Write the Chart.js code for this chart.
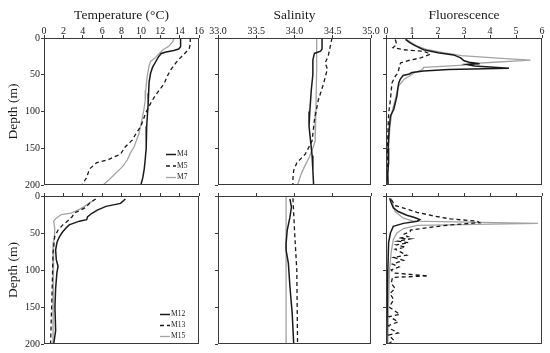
<!DOCTYPE html>
<html><head><meta charset="utf-8">
<script src="https://cdn.jsdelivr.net/npm/chart.js@4/dist/chart.umd.min.js"></script>
<style>
html,body{margin:0;padding:0;background:#fff;}
#wrap{position:relative;width:550px;height:353px;overflow:hidden;}
#wrap canvas{position:absolute;left:0;top:0;}
</style></head><body><div id="wrap"></div>
<script>
// ---------- DATA (value, depth in m) ----------
// Top row stations
const tempM4  = [14.1,14.1,14.1,13.9,13.4,12.6,12.1,11.8,11.5,11.2,11.0,10.85,10.8,10.75,10.7,10.6,10.55,10.45,10.35,10.2,10.0];
const depTempM4 = [0,5,12,15,17,19,21,26,33,40,48,60,75,90,100,120,150,165,178,190,200];
const tempM5  = [15.1,15.1,15.0,14.6,14.0,13.6,13.1,12.8,12.4,11.9,11.4,11.0,10.5,10.0,9.5,9.1,8.4,7.9,6.7,5.4,4.8,4.6,4.4,3.9];
const depTempM5 = [0,8,14,20,28,34,43,50,62,71,80,89,102,120,130,139,148,158,165,170,177,182,190,200];
const tempM7  = [13.4,13.3,12.9,12.3,11.9,11.4,11.0,10.85,10.65,10.5,10.45,10.3,10.1,9.8,9.3,8.9,8.6,8.1,7.4,6.7,6.1];
const depTempM7 = [0,5,11,16,21,28,32,38,52,71,85,98,112,130,148,157,166,175,184,193,200];

const salM4 = [34.36,34.36,34.34,34.26,34.24,34.24,34.22,34.20,34.19,34.21,34.23,34.24,34.25];
const depSalM4 = [0,15,18,21,30,50,70,100,120,140,160,180,200];
const salM5 = [34.49,34.47,34.44,34.40,34.43,34.38,34.31,34.26,34.23,34.18,34.14,34.03,33.99,33.98,33.98];
const depSalM5 = [0,10,25,34,42,62,85,112,140,150,158,170,180,190,200];
const salM7 = [34.29,34.29,34.28,34.27,34.24,34.19,34.13,34.08,34.04];
const depSalM7 = [0,40,100,140,150,163,175,187,200];

const fluM4 = [0.75,0.9,1.1,1.45,2.0,2.6,2.87,3.0,3.2,3.6,3.1,3.4,4.73,2.4,1.45,1.0,0.9,0.66,0.55,0.49,0.45,0.42,0.3,0.17,0.12,0.08,0.1,0.06,0.08];
const depFluM4 = [2,6,10,16,20,23,27,31,33,35,36,38,41,43,45,47,49,51,56,61,70,79,97,106,125,150,170,185,200];
const fluM5 = [0.36,0.41,0.27,0.68,1.45,1.71,1.33,0.82,0.56,0.52,0.49,0.45,0.36,0.23,0.17,0.1,0.07,0.05,0.05];
const depFluM5 = [2,9,13,16,18,22,27,31,34,38,43,48,52,61,84,103,130,160,200];
const fluM7 = [0.8,1.0,1.2,1.6,2.2,2.9,4.15,5.56,4.15,3.25,3.0,1.45,1.4,1.1,0.94,0.7,0.49,0.36,0.23,0.15,0.1,0.08];
const depFluM7 = [2,7,11,16,20,24,27,30,33,35,37,40,43,47,51,56,65,83,101,120,150,200];

// Bottom row stations
const tempM12 = [8.4,7.9,6.4,5.5,5.0,4.5,4.4,3.65,2.6,2.3,1.95,1.6,1.35,1.2,1.27,1.45,1.33,1.2,1.13,1.2,1.0];
const depTempM12 = [4,10,14,19,23,28,32,34,39,43,48,55,62,73,86,95,104,125,150,182,200];
const tempM13 = [5.35,4.85,4.4,4.2,3.8,3.15,2.9,2.6,1.95,1.45,1.1,0.93,0.85,0.75,0.68];
const depTempM13 = [4,8,14,16,19,23,28,32,39,46,55,77,122,167,200];
const tempM15 = [5.2,4.7,4.2,3.65,2.8,1.8,1.25,1.0,1.1,1.1,1.0,0.93,0.93];
const depTempM15 = [6,9,14,18,23,25,30,34,43,50,62,97,200];

const salM12 = [33.94,33.96,33.94,33.905,33.89,33.89,33.92,33.94,33.97,33.99];
const depSalM12 = [4,15,29,46,64,73,91,122,159,200];
const salM13 = [33.98,34.0,34.03,34.04];
const depSalM13 = [3,46,100,200];
const salM15 = [33.89,33.89];
const depSalM15 = [0,200];

const fluM12 = [0.14,0.2,0.28,0.47,0.8,1.1,1.3,1.2,0.67,0.28,0.17,0.1,0.07,0.05,0.03];
const depFluM12 = [3,9,16,21,26,29,32,34,37,41,50,63,100,150,200];
const fluM13 = [0.2,0.36,0.93,1.19,1.84,2.48,3.5,3.6,2.48,2.0,0.94,0.93,0.67,0.85,0.5,0.93,0.45,0.87,0.4,0.75,0.35,0.8,0.3,0.67,0.25,0.5,0.2,0.3,1.62,0.25,0.2,0.35,0.15,0.3,0.12,0.53,0.12,0.47,0.1,0.2,0.47,0.1,0.3,0.08];
const depFluM13 = [5,13,19,22,27,31,34,36,39,41,46,48,52,55,57,58,61,63,66,69,72,80,83,87,92,96,100,104,108,110,118,125,132,140,150,160,163,170,175,180,185,188,195,200];
const fluM15 = [0.2,0.28,0.35,0.67,1.05,5.85,1.2,0.67,0.42,0.28,0.2,0.14,0.1,0.07];
const depFluM15 = [3,13,21,30,34,37,39.6,44,50,59,76,98,143,200];

// Axis ticks / labels
const depthTicks = [0,50,100,150,200];
const tempTicks = [0,2,4,6,8,10,12,14,16];
const salTicks = [33.0,33.5,34.0,34.5,35.0];
const fluTicks = [0,1,2,3,4,5,6];
const titles = ['Temperature (\u00B0C)','Salinity','Fluorescence'];
const depthTitle = 'Depth (m)';
const topStations = ['M4','M5','M7'];
const botStations = ['M12','M13','M15'];

// ---------- DRAWING ----------
const SERIF = "'Liberation Serif','Times New Roman',serif";
const INK = '#1a1a1a';
const FRAME = '#3a3a3a';
const GRAY = '#a3a3a3';
const styles = [
  {borderColor: INK, borderWidth: 1.5, borderDash: []},
  {borderColor: INK, borderWidth: 1.3, borderDash: [4,3]},
  {borderColor: GRAY, borderWidth: 1.3, borderDash: []}
];
function zip(xs, ys){ return xs.map((v,i)=>({x:v, y:ys[i]})); }

const boxPlugin = {
  id: 'box',
  afterDraw(chart){
    const a = chart.chartArea, c = chart.ctx;
    c.save(); c.strokeStyle = FRAME; c.lineWidth = 1;
    c.strokeRect(Math.round(a.left)+0.5, Math.round(a.top)+0.5, Math.round(a.right-a.left)-1, Math.round(a.bottom-a.top)-1);
    c.restore();
  }
};
const legendPlugin = {
  id: 'inLegend',
  afterDraw(chart, args, opts){
    if (!opts || opts.x === undefined) return;
    const c = chart.ctx;
    c.save();
    chart.data.datasets.forEach((ds, i) => {
      const y = opts.y + i*opts.dy + 0.5;
      c.strokeStyle = ds.borderColor; c.lineWidth = ds.borderWidth;
      c.setLineDash(ds.borderDash || []);
      c.beginPath(); c.moveTo(opts.x, y); c.lineTo(opts.x + opts.len, y); c.stroke();
      c.setLineDash([]);
      c.fillStyle = INK; c.font = '7.5px ' + SERIF; c.textBaseline = 'middle'; c.textAlign = 'left';
      c.fillText(ds.label, opts.x + opts.len + 1, y);
    });
    c.restore();
  }
};

const wrap = document.getElementById('wrap');
function panel(rect, xr, xTicks, xFmt, xTitle, showXLabels, showYLabels, series, names, legend){
  const cv = document.createElement('canvas');
  cv.width = 550; cv.height = 353;
  cv.style.width = '550px'; cv.style.height = '353px';
  wrap.appendChild(cv);
  const datasets = series.map((s, i) => Object.assign({
    label: names[i], data: zip(s[0], s[1]), showLine: true, pointRadius: 0,
    fill: false, tension: 0
  }, styles[i]));
  new Chart(cv, {
    type: 'scatter',
    data: { datasets },
    options: {
      responsive: false, animation: false, events: [],
      layout: { padding: { left: 0, top: 0, right: 550 - rect.r, bottom: 353 - rect.b } },
      plugins: { legend: {display:false}, tooltip: {enabled:false}, inLegend: legend || {} },
      scales: {
        x: {
          type: 'linear', position: 'top', min: xr[0], max: xr[1],
          afterBuildTicks: s => { s.ticks = xTicks.map(v => ({value: v})); },
          afterFit: s => { s.height = rect.t; },
          ticks: { display: showXLabels, font: {family: SERIF, size: 10}, color: INK, padding: -2,
                   callback: v => xFmt(v), maxRotation: 0, autoSkip: false },
          grid: { display: true, drawOnChartArea: false, drawTicks: true, tickLength: 3, color: FRAME },
          border: { display: false },
          title: { display: !!xTitle, text: xTitle || '', font: {family: SERIF, size: 13.5}, color: INK,
                   padding: {top: 7, bottom: 0} }
        },
        y: {
          type: 'linear', position: 'left', reverse: true, min: 0, max: 200,
          afterBuildTicks: s => { s.ticks = depthTicks.map(v => ({value: v})); },
          afterFit: s => { s.width = rect.l; },
          ticks: { display: showYLabels, font: {family: SERIF, size: 10}, color: INK, padding: 1, autoSkip: false },
          grid: { display: true, drawOnChartArea: false, drawTicks: true, tickLength: 3, color: FRAME },
          border: { display: false },
          title: { display: showYLabels, text: depthTitle, font: {family: SERIF, size: 13.5}, color: INK,
                   padding: {top: 5, bottom: 0} }
        }
      }
    },
    plugins: [boxPlugin, legendPlugin]
  });
}

const fmt0 = v => String(v);
const fmt1 = v => v.toFixed(1);
const cols = [{l:44, r:199}, {l:218, r:371}, {l:386, r:542}];
const rows = [{t:38, b:185}, {t:196, b:344}];

// top row
panel({...cols[0], ...rows[0]}, [0,16], tempTicks, fmt0, titles[0], true, true,
  [[tempM4, depTempM4],[tempM5, depTempM5],[tempM7, depTempM7]], topStations,
  {x:166, y:154, dy:11.5, len:10});
panel({...cols[1], ...rows[0]}, [33,35], salTicks, fmt1, titles[1], true, false,
  [[salM4, depSalM4],[salM5, depSalM5],[salM7, depSalM7]], topStations, null);
panel({...cols[2], ...rows[0]}, [0,6], fluTicks, fmt0, titles[2], true, false,
  [[fluM4, depFluM4],[fluM5, depFluM5],[fluM7, depFluM7]], topStations, null);
// bottom row
panel({...cols[0], ...rows[1]}, [0,16], tempTicks, fmt0, null, false, true,
  [[tempM12, depTempM12],[tempM13, depTempM13],[tempM15, depTempM15]], botStations,
  {x:160, y:314, dy:11, len:10});
panel({...cols[1], ...rows[1]}, [33,35], salTicks, fmt1, null, false, false,
  [[salM12, depSalM12],[salM13, depSalM13],[salM15, depSalM15]], botStations, null);
panel({...cols[2], ...rows[1]}, [0,6], fluTicks, fmt0, null, false, false,
  [[fluM12, depFluM12],[fluM13, depFluM13],[fluM15, depFluM15]], botStations, null);
</script></body></html>
